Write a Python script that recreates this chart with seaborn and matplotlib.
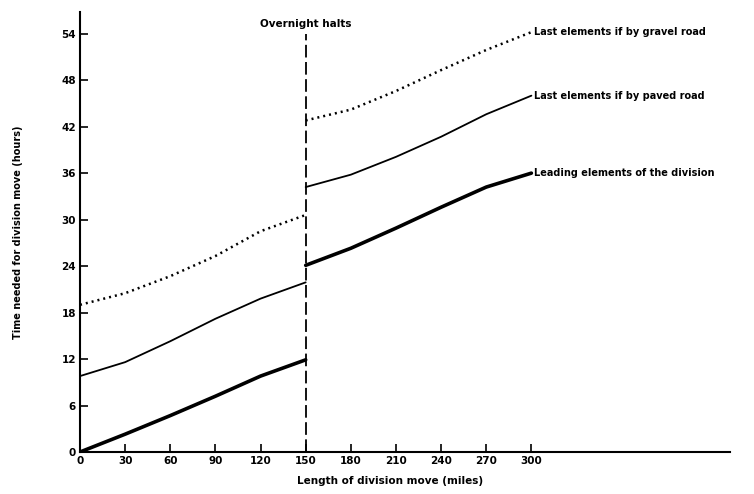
import matplotlib
matplotlib.use("Agg")
import matplotlib.pyplot as plt
import seaborn as sns
import pandas as pd

# Data
miles_day1 = [0, 30, 60, 90, 120, 150]
miles_day2 = [150, 180, 210, 240, 270, 300]
leading_day1 = [0.0, 2.3, 4.7, 7.2, 9.8, 11.9]
leading_day2 = [24.1, 26.3, 28.9, 31.6, 34.2, 36.0]
paved_day1 = [9.8, 11.6, 14.3, 17.2, 19.8, 21.9]
paved_day2 = [34.2, 35.8, 38.1, 40.7, 43.6, 46.0]
gravel_day1 = [19.0, 20.5, 22.7, 25.3, 28.5, 30.6]
gravel_day2 = [42.8, 44.2, 46.6, 49.3, 51.9, 54.2]

series_labels = ["Last elements if by gravel road",
                 "Last elements if by paved road",
                 "Leading elements of the division"]
x_ticks = [0, 30, 60, 90, 120, 150, 180, 210, 240, 270, 300]
y_ticks = [0, 6, 12, 18, 24, 30, 36, 42, 48, 54]
halt_mile = 150
halt_label = "Overnight halts"

sns.set_theme(style="white")
plt.rcParams["font.family"] = ["DejaVu Sans"]
plt.rcParams["text.color"] = "black"
plt.rcParams["axes.labelcolor"] = "black"
plt.rcParams["xtick.color"] = "black"
plt.rcParams["ytick.color"] = "black"

fig = plt.figure(figsize=(7.54, 4.94), dpi=100)
ax = fig.add_axes([80 / 754, 1 - 452 / 494, 650 / 754, 440 / 494])

styles = {
    series_labels[0]: dict(color="black", linewidth=1.8, linestyle=(0, (0.8, 1.6))),
    series_labels[1]: dict(color="black", linewidth=1.3, linestyle="-"),
    series_labels[2]: dict(color="black", linewidth=2.6, linestyle="-"),
}

segments = [
    (series_labels[0], gravel_day1, gravel_day2),
    (series_labels[1], paved_day1, paved_day2),
    (series_labels[2], leading_day1, leading_day2),
]

for label, d1, d2 in segments:
    for xs, ys in ((miles_day1, d1), (miles_day2, d2)):
        df = pd.DataFrame({"miles": xs, "hours": ys})
        sns.lineplot(data=df, x="miles", y="hours", ax=ax, **styles[label])
    ax.text(miles_day2[-1] + 2, d2[-1], label, fontsize=7, fontweight="bold",
            va="center", ha="left", color="black")

# Overnight halt line
ax.plot([halt_mile, halt_mile], [0, 54], color="black", linewidth=1.3,
        linestyle=(0, (7, 2.5)))
ax.text(halt_mile, 55.2, halt_label, fontsize=7.5, fontweight="bold",
        ha="center", va="center", color="black")

ax.set_xlim(0, 432)
ax.set_ylim(0, 56.8)
ax.set_xticks(x_ticks)
ax.set_yticks(y_ticks)
ax.set_xticklabels([str(v) for v in x_ticks], fontsize=7.5, fontweight="bold")
ax.set_yticklabels([str(v) for v in y_ticks], fontsize=7.5, fontweight="bold")
ax.tick_params(axis="both", direction="in", length=6, width=1.2, color="black",
               labelcolor="black", bottom=True, left=True, pad=3)

for side in ("top", "right"):
    ax.spines[side].set_visible(False)
for side in ("left", "bottom"):
    ax.spines[side].set_color("black")
    ax.spines[side].set_linewidth(1.5)

ax.set_xlabel("Length of division move (miles)", fontsize=7.5, fontweight="bold",
              color="black")
ax.xaxis.set_label_coords((390 - 80) / 650, -0.055)
ax.set_ylabel("Time needed for division move (hours)", fontsize=7, fontweight="bold",
              color="black")
ax.yaxis.set_label_coords(-0.088, 0.5)

fig.savefig("out.png", dpi=100, facecolor="white")
